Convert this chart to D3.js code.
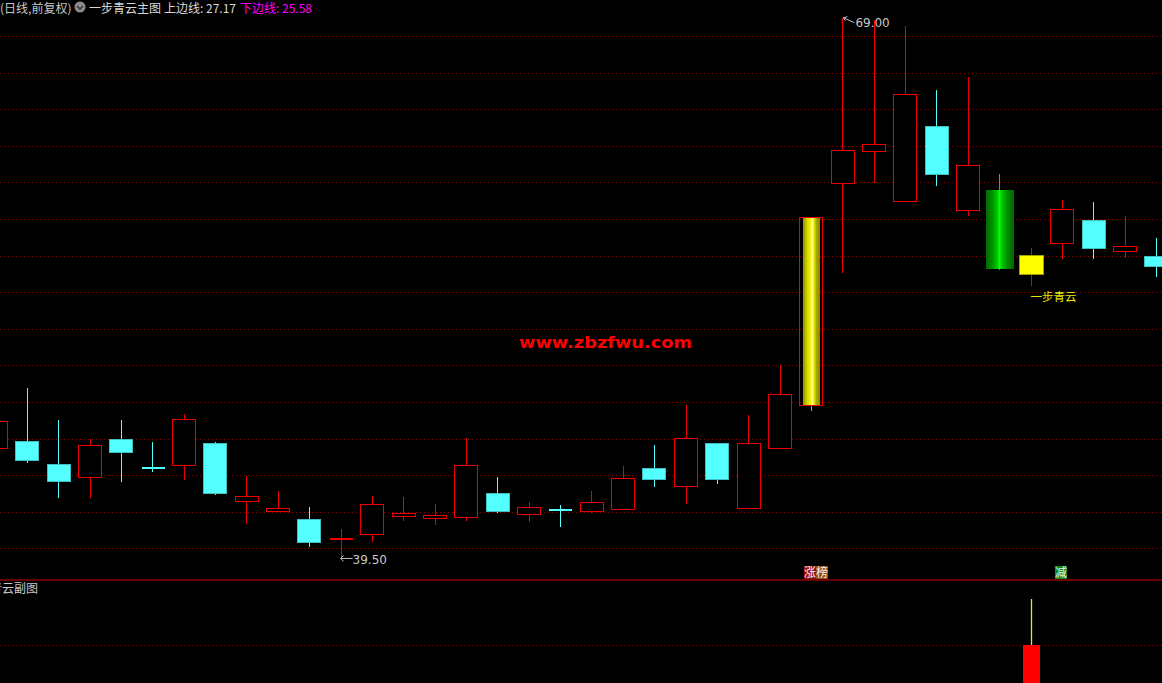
<!DOCTYPE html>
<html><head><meta charset="utf-8">
<script src="https://cdn.jsdelivr.net/npm/d3@7"></script>
<style>
html,body{margin:0;padding:0;background:#000;overflow:hidden;}
svg{display:block;}
text{font-family:"Noto Sans CJK SC","Noto Sans",sans-serif;}
</style></head>
<body>
<svg id="c" width="1162" height="683"></svg>
<script>
// ---------- data ----------
const opens  = [45.47,45.85,44.62,43.90,45.97,44.42,44.51,45.74,42.57,42.06,41.60,40.58,40.74,41.73,41.62,41.69,43.04,41.84,42.14,42.06,42.13,44.41,43.37,45.74,42.22,45.46,47.79,59.95,61.73,58.98,63.06,58.51,59.58,54.95,56.65,57.96,56.27,55.96];
const highs  = [46.94,48.74,47.01,45.97,47.01,45.79,47.36,45.83,43.95,43.13,42.26,41.04,42.87,42.82,42.42,46.03,43.90,42.53,42.37,43.13,44.50,45.63,47.83,45.74,47.30,50.02,58.10,69.00,68.88,68.55,65.03,65.74,60.46,56.41,59.02,58.91,58.16,56.96];
const lows   = [45.47,44.68,42.73,42.73,43.62,44.19,43.73,42.93,41.34,42.06,40.05,39.50,40.36,41.51,41.29,41.51,41.95,41.45,41.15,41.95,42.13,43.37,42.42,43.51,42.22,45.46,47.52,55.03,59.95,58.98,59.82,58.18,55.20,54.34,55.81,55.79,55.85,54.84];
const closes = [46.94,44.83,43.68,45.66,45.26,44.40,47.05,42.98,42.87,42.20,40.36,40.58,42.40,41.91,41.80,44.53,42.04,42.24,42.12,42.55,43.83,43.83,46.01,43.77,45.77,48.42,58.10,61.75,62.11,64.85,60.46,60.95,55.28,56.01,58.53,56.43,56.52,55.43];
const limitUpDays   = [26];      // 涨停 highlighted bar
const breakDownDays = [32];      // green highlighted bar
const qingyunDays   = [33];      // 一步青云 signal bar
const tagDays  = [26, 34];
const tagTexts = [["涨","榜"], ["减"]];
const headerPeriod = "(日线,前复权)";
const headerTitle  = "一步青云主图";
const upperLineName = "上边线", upperLineValue = 27.17;
const lowerLineName = "下边线", lowerLineValue = 25.58;
const signalLabel = "一步青云";
const watermark = "www.zbzfwu.com";
const subTitle = "一步青云副图";
const subBarDays = [33];
const subBarValues = [55];
const subStickValues = [101];
const subGridLevel = 55;

// ---------- scales ----------
const svg = d3.select("#c");
const n = opens.length;
const x = d3.scaleLinear().domain([0, n - 1]).range([-4.4, 1156]);
const y = d3.scaleLinear().domain([40, 68]).range([548.3, 36]);
const ySub = d3.scaleLinear().domain([0, 101]).range([700, 599]);
const bw = 23.5;
const RED = "#ee0000", CYAN = "#54ffff";

const defs = svg.append("defs");
const g1 = defs.append("linearGradient").attr("id","gold").attr("x1","0").attr("x2","1").attr("y1","0").attr("y2","0");
[[0,"#8c8c00"],[0.12,"#a8a800"],[0.28,"#d8d800"],[0.45,"#f0f000"],[0.58,"#ffff90"],[0.68,"#e8e800"],[0.82,"#a8a800"],[1,"#8c8c00"]]
  .forEach(s=>g1.append("stop").attr("offset",s[0]).attr("stop-color",s[1]));
const g2 = defs.append("linearGradient").attr("id","grn").attr("x1","0").attr("x2","1").attr("y1","0").attr("y2","0");
[[0,"#006800"],[0.2,"#008800"],[0.4,"#00c000"],[0.5,"#00ff00"],[0.6,"#00c000"],[0.8,"#008800"],[1,"#006800"]]
  .forEach(s=>g2.append("stop").attr("offset",s[0]).attr("stop-color",s[1]));

// ---------- grid ----------
svg.append("g").selectAll("line").data(y.ticks(14)).join("line")
  .attr("x1",0).attr("x2",1162).attr("y1",d=>Math.round(y(d))+0.5).attr("y2",d=>Math.round(y(d))+0.5)
  .attr("stroke","#8a0000").attr("stroke-width",1).attr("stroke-dasharray","1,3");
svg.append("line").attr("x1",0).attr("x2",1162).attr("y1",580).attr("y2",580)
  .attr("stroke","#900000").attr("stroke-width",1.5);
svg.append("line").attr("x1",0).attr("x2",1162).attr("y1",Math.round(ySub(subGridLevel))+0.5).attr("y2",Math.round(ySub(subGridLevel))+0.5)
  .attr("stroke","#8a0000").attr("stroke-width",1).attr("stroke-dasharray","1,3");

// ---------- watermark ----------
svg.append("text").attr("x",519).attr("y",347.5).attr("textLength",173).attr("lengthAdjust","spacingAndGlyphs")
  .attr("fill","#ff0000").attr("font-weight","bold").attr("font-size",15.5)
  .style("font-family","'DejaVu Sans',sans-serif").text(watermark);

// ---------- candles ----------
const idx = d3.range(n);
const cg = svg.append("g").attr("shape-rendering","crispEdges");
idx.forEach(i=>{
  const cx = Math.round(x(i)) + 0.5;
  const o = opens[i], c = closes[i], h = highs[i], l = lows[i];
  const up = c >= o;
  const top = y(Math.max(o,c)), bot = y(Math.min(o,c));
  const left = Math.round(x(i) - bw/2) + 0.5, w = Math.round(bw) - 1;
  if (limitUpDays.includes(i)) {
    cg.append("line").attr("x1",cx).attr("x2",cx).attr("y1",bot).attr("y2",y(l)).attr("stroke","#b0b000");
    cg.append("rect").attr("x",left+3).attr("y",top).attr("width",w-6).attr("height",bot-top).attr("fill","url(#gold)");
    cg.append("rect").attr("x",left).attr("y",top).attr("width",w).attr("height",bot-top).attr("fill","none").attr("stroke",RED);
    return;
  }
  if (breakDownDays.includes(i)) {
    cg.append("line").attr("x1",cx).attr("x2",cx).attr("y1",y(h)).attr("y2",y(l)).attr("stroke","#00e000");
    cg.append("rect").attr("x",left-2).attr("y",top).attr("width",w+5).attr("height",bot-top).attr("fill","url(#grn)");
    return;
  }
  if (qingyunDays.includes(i)) {
    cg.append("line").attr("x1",cx).attr("x2",cx).attr("y1",y(h)).attr("y2",y(l)).attr("stroke",RED);
    cg.append("rect").attr("x",left).attr("y",top).attr("width",w+1).attr("height",bot-top).attr("fill","#ffff00").attr("stroke","#a0a000");
    return;
  }
  if (up) {
    cg.append("line").attr("x1",cx).attr("x2",cx).attr("y1",y(h)).attr("y2",top).attr("stroke",RED);
    cg.append("line").attr("x1",cx).attr("x2",cx).attr("y1",bot).attr("y2",y(l)).attr("stroke",RED);
    if (bot - top < 1.5) {
      cg.append("line").attr("x1",left).attr("x2",left+w).attr("y1",Math.round(top)+0.5).attr("y2",Math.round(top)+0.5).attr("stroke",RED).attr("stroke-width",2);
    } else {
      cg.append("rect").attr("x",left).attr("y",Math.round(top)+0.5).attr("width",w).attr("height",Math.round(bot-top)).attr("fill","#000").attr("stroke",RED).attr("stroke-width",1.3);
    }
  } else {
    cg.append("line").attr("x1",cx).attr("x2",cx).attr("y1",y(h)).attr("y2",y(l)).attr("stroke",CYAN);
    if (bot - top < 1.5) {
      cg.append("line").attr("x1",left).attr("x2",left+w).attr("y1",Math.round(top)+0.5).attr("y2",Math.round(top)+0.5).attr("stroke",CYAN).attr("stroke-width",2);
    } else {
      cg.append("rect").attr("x",left).attr("y",Math.round(top)+0.5).attr("width",w).attr("height",Math.round(bot-top)).attr("fill",CYAN).attr("stroke","#3fbfbf");
    }
  }
});

// ---------- high / low markers ----------
const hiI = d3.maxIndex(highs), loI = d3.minIndex(lows);
const hx = x(hiI), hy = y(highs[hiI]);
svg.append("path").attr("d",`M${hx+12},${hy+5}L${hx+1},${hy}M${hx+1},${hy}l4,-1M${hx+1},${hy}l2,3`)
  .attr("stroke","#c0c0c0").attr("fill","none").attr("stroke-width",1);
svg.append("text").attr("x",hx+13).attr("y",hy+9).attr("font-size",12).attr("fill","#c8c8c8")
  .style("font-family","'DejaVu Sans',sans-serif").text(highs[hiI].toFixed(2));
const lx = x(loI), ly = y(lows[loI]) + 1;
svg.append("path").attr("d",`M${lx+12},${ly}L${lx},${ly}M${lx},${ly}l3,-3M${lx},${ly}l3,3`)
  .attr("stroke","#c0c0c0").attr("fill","none").attr("stroke-width",1);
svg.append("text").attr("x",lx+12).attr("y",ly+5.5).attr("font-size",12).attr("fill","#c8c8c8")
  .style("font-family","'DejaVu Sans',sans-serif").text(lows[loI].toFixed(2));

// ---------- signal label ----------
qingyunDays.forEach(i=>{
  svg.append("text").attr("x",x(i)).attr("y",300.5).attr("font-size",11.5).attr("fill","#e8e800").text(signalLabel);
});

// ---------- tags ----------
const tagBg = {"涨":"#9a1010","榜":"#9a4a10","减":"#108a10"};
tagDays.forEach((d,k)=>{
  tagTexts[k].forEach((ch,j)=>{
    const tx = x(d) - 7 + j*12;
    svg.append("rect").attr("x",tx).attr("y",566).attr("width",12).attr("height",13).attr("fill",tagBg[ch]);
    svg.append("text").attr("x",tx+6).attr("y",577).attr("text-anchor","middle").attr("font-size",12).attr("fill","#f0f0f0").text(ch);
  });
});

// ---------- sub panel ----------
svg.append("text").attr("x",38).attr("y",593).attr("text-anchor","end").attr("font-size",12).attr("fill","#c8c8c8").text(subTitle);
subBarDays.forEach((d,k)=>{
  const cx = Math.round(x(d)) + 0.5;
  svg.append("line").attr("x1",cx).attr("x2",cx).attr("y1",ySub(subStickValues[k])).attr("y2",ySub(subBarValues[k]))
    .attr("stroke","#e8e800").attr("stroke-width",1.3);
  svg.append("rect").attr("x",cx-8.5).attr("y",ySub(subBarValues[k])).attr("width",17).attr("height",ySub(0)-ySub(subBarValues[k]))
    .attr("fill","#ff0000");
});

// ---------- header ----------
const hdr = svg.append("g").attr("font-size",12);
hdr.append("text").attr("x",0).attr("y",12.5).attr("fill","#c8c8c8").text(headerPeriod);
hdr.append("circle").attr("cx",80).attr("cy",7).attr("r",5.5).attr("fill","#8c8c8c");
hdr.append("path").attr("d","M77,6L80,9L83,6").attr("stroke","#303030").attr("stroke-width",1.5).attr("fill","none");
hdr.append("text").attr("x",89).attr("y",12.5).attr("fill","#d8d8d8").text(headerTitle);
hdr.append("text").attr("x",164).attr("y",12.5).attr("fill","#d8d8d8").text(`${upperLineName}: ${upperLineValue.toFixed(2)}`);
hdr.append("text").attr("x",240).attr("y",12.5).attr("fill","#ff00ff").text(`${lowerLineName}: ${lowerLineValue.toFixed(2)}`);
</script>
</body></html>
